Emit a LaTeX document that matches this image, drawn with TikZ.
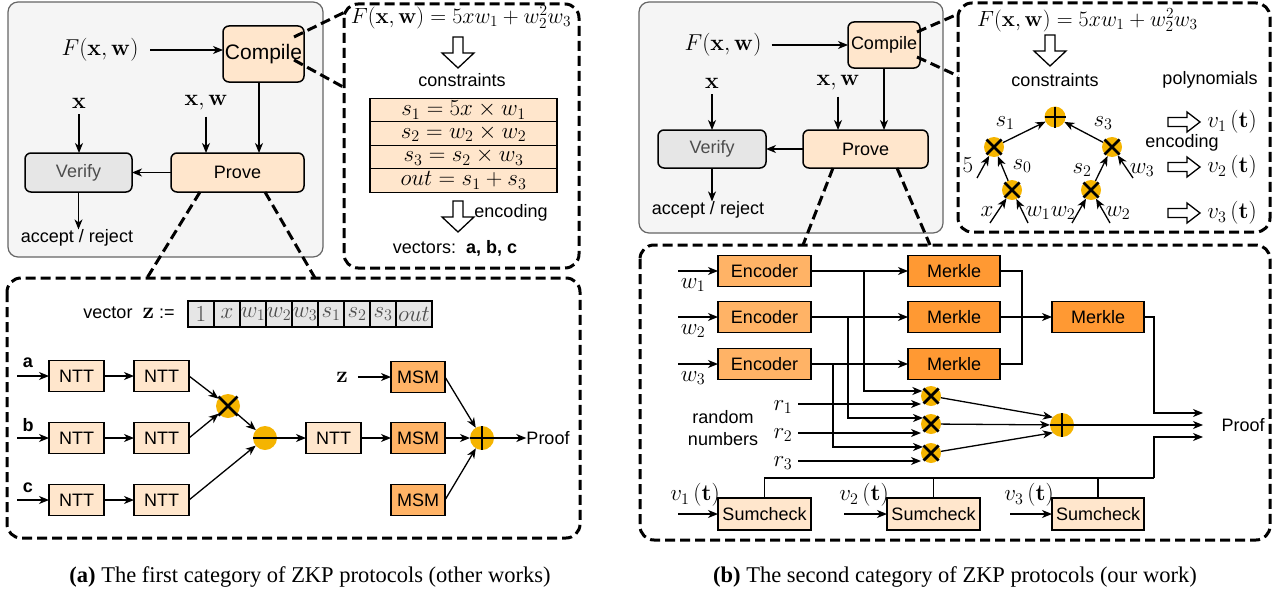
\RequirePackage{fix-cm}
\documentclass[tikz,border=0pt]{standalone}
\usepackage[no-math]{fontspec}
\setmainfont{Liberation Sans}
\newfontfamily\capfont{Liberation Serif}
\usetikzlibrary{arrows.meta,positioning}
\definecolor{peach}{HTML}{FFE6CC}
\definecolor{orangeA}{HTML}{FFB366}
\definecolor{orangeB}{HTML}{FF9933}
\definecolor{panelgray}{HTML}{F5F5F5}
\definecolor{panelrim}{HTML}{666666}
\definecolor{boxgray}{HTML}{E6E6E6}
\definecolor{vgray}{HTML}{4D4D4D}
\definecolor{opgold}{HTML}{F5B400}
% operator glyphs drawn on top of the round operator nodes
\newcommand\opmul[2]{\draw[line width=2.8pt] ([shift={(-#2,-#2)}]#1.center) -- ([shift={(#2,#2)}]#1.center) ([shift={(-#2,#2)}]#1.center) -- ([shift={(#2,-#2)}]#1.center);}
\newcommand\opadd[2]{\draw[line width=2.8pt] ([shift={(-#2,0)}]#1.center) -- ([shift={(#2,0)}]#1.center) ([shift={(0,-#2)}]#1.center) -- ([shift={(0,#2)}]#1.center);}
\newcommand\opsub[2]{\draw[line width=2.8pt] ([shift={(-#2,0)}]#1.center) -- ([shift={(#2,0)}]#1.center);}
\newcommand\mfs{\fontsize{23}{27}\selectfont}
\newcommand\ffs{\fontsize{22}{26}\selectfont}
\tikzset{
  hdown/.pic={\draw[line width=1.3pt, fill=white] (-5,0) -- (-5,16) -- (-16,16) -- (0,31) -- (16,16) -- (5,16) -- (5,0) -- cycle;},
  hright/.pic={\draw[line width=1.3pt, fill=white] (0,-4.5) -- (19,-4.5) -- (19,-10) -- (32,0) -- (19,10) -- (19,4.5) -- (0,4.5) -- cycle;}
}
\begin{document}
\begin{tikzpicture}[x=1pt,y=-1pt,
  every node/.style={font=\fontsize{18}{21}\selectfont, inner sep=0pt},
  mlab/.style={font=\mfs},
  arr/.style={line width=1.3pt, -{Stealth[length=10pt,width=8pt,inset=3pt]}},
  ln/.style={line width=1.3pt},
  sbox/.style={draw, line width=1.5pt, outer sep=0pt, minimum height=31pt},
  rsbox/.style={sbox, rounded corners=6pt},
  ntt/.style={sbox, fill=peach, minimum width=55pt},
  msm/.style={sbox, fill=orangeA, minimum width=54pt},
  cell/.style={draw, line width=1.3pt, fill=boxgray, text=vgray, outer sep=0pt, minimum width=26pt, minimum height=26pt, font=\mfs},
  crow/.style={draw, line width=1.3pt, fill=peach, outer sep=0pt, minimum width=187pt, minimum height=23.5pt, font=\mfs},
  dpanel/.style={line width=3pt, dash pattern=on 10pt off 5pt, rounded corners=14pt},
  dline/.style={line width=3pt, dash pattern=on 10pt off 5pt},
  opc/.style={circle, fill=opgold, minimum size=#1, outer sep=0pt}
]
\useasboundingbox (0,0) rectangle (1281,594);

% ================= (a) protocol overview =================
\draw[fill=panelgray, draw=panelrim, line width=1.2pt, rounded corners=10pt] (8,2) rectangle (323,257);
\node[rsbox, fill=peach, minimum width=81pt, minimum height=56pt, font=\fontsize{21}{24}\selectfont] (compA) at (263.5,54) {Compile};
\node[rsbox, fill=peach, minimum width=133pt, minimum height=39pt] (provA) at (237.5,172.5) {Prove};
\node[rsbox, fill=boxgray, text=vgray, minimum width=107pt, minimum height=39pt] (verA) at (78.5,172.5) {Verify};
\node[mlab] (FA) at (100,50) {$F(\mathbf{x},\mathbf{w})$};
\node[mlab] (xA) at (79,103) {$\mathbf{x}$};
\node[mlab] (xwA) at (206,103) {$\mathbf{x},\mathbf{w}$};
\node (accA) at (77,238) {accept / reject};
\coordinate (cAo) at (259,82);
\coordinate (fAo) at (150,50);
\draw[arr] (fAo) -- (fAo -| compA.west);
\draw[arr] (cAo) -- (cAo |- provA.north);
\draw[arr] ([shift={(0,6)}]xA.south) -- (xA.south |- verA.north);
\draw[arr] ([shift={(0,6)}]xwA.south) -- (xwA.south |- provA.north);
\draw[arr] (provA.west) -- (verA.east);
\draw[arr] (verA.south) -- (verA.south |- accA.north);

% ----- constraint panel -----
\draw[dpanel] (344,4) rectangle (579,268);
\coordinate (cpA1) at (345,12);
\coordinate (cpA2) at (345,88);
\draw[dline] ([shift={(-10,-17)}]compA.east) -- (cpA1);
\draw[dline] ([shift={(-10,6)}]compA.east) -- (cpA2);
\node[font=\ffs] (FeqA) at (461,17) {$F(\mathbf{x},\mathbf{w}) = 5xw_1 + w_2^2w_3$};
\pic at (458,37) {hdown};
\node (consA) at (462,80) {constraints};
\node[crow] (c1) at (463.5,110) {$s_1 = 5x \times w_1$};
\node[crow, below=0pt of c1] (c2) {$s_2 = w_2 \times w_2$};
\node[crow, below=0pt of c2] (c3) {$s_3 = s_2 \times w_3$};
\node[crow, below=0pt of c3] (c4) {$out = s_1 + s_3$};
\pic at (458,201) {hdown};
\node (encA) at (511,213) {encoding};
\node (vecA) at (455,248) {vectors:\ \ \textbf{a, b, c}};

% ----- prover pipeline -----
\draw[dpanel] (7,278) rectangle (580,538);
\coordinate (ppA1) at (147,278);
\coordinate (ppA2) at (315,278);
\draw[dline] ([shift={(-37.5,0)}]provA.south) -- (ppA1);
\draw[dline] ([shift={(27.5,0)}]provA.south) -- (ppA2);

\node (zlab) at (129,313) {vector\ \ {\mfs$\mathbf{z}$} :=};
\node[cell] (z1) at (201,314) {$1$};
\node[cell, right=0pt of z1] (z2) {$x$};
\node[cell, right=0pt of z2] (z3) {$w_1$};
\node[cell, right=0pt of z3] (z4) {$w_2$};
\node[cell, right=0pt of z4] (z5) {$w_3$};
\node[cell, right=0pt of z5] (z6) {$s_1$};
\node[cell, right=0pt of z6] (z7) {$s_2$};
\node[cell, right=0pt of z7] (z8) {$s_3$};
\node[cell, right=0pt of z8, minimum width=36pt] (z9) {$out$};

\node[ntt] (na1) at (76.5,376) {NTT};
\node[ntt] (na2) at (161.5,376) {NTT};
\node[ntt] (nb1) at (76.5,438) {NTT};
\node[ntt] (nb2) at (161.5,438) {NTT};
\node[ntt] (nc1) at (76.5,500) {NTT};
\node[ntt] (nc2) at (161.5,500) {NTT};
\coordinate (ia) at (17,376);
\coordinate (ib) at (17,438);
\coordinate (ic) at (17,500);
\node[font=\bfseries\fontsize{18}{21}\selectfont] (la) at (28,363) {a};
\node[font=\bfseries\fontsize{18}{21}\selectfont] (lb) at (28,425) {b};
\node[font=\bfseries\fontsize{18}{21}\selectfont] (lc) at (28,488) {c};
\draw[arr] (ia) -- (na1.west);
\draw[arr] (ib) -- (nb1.west);
\draw[arr] (ic) -- (nc1.west);
\draw[arr] (na1) -- (na2);
\draw[arr] (nb1) -- (nb2);
\draw[arr] (nc1) -- (nc2);

\node[opc=24pt] (mulA) at (228,406) {};
\node[opc=24pt] (subA) at (265,438) {};
\draw[arr] (na2.east) -- (mulA);
\draw[arr] (nb2.east) -- (mulA);
\draw[arr] (mulA) -- (subA);
\draw[arr] (nc2.east) -- (subA);
\opmul{mulA}{9.5}
\opsub{subA}{12}

\node[ntt] (nd) at (333.5,438) {NTT};
\node[msm] (msm1) at (418,377) {MSM};
\node[msm] (msm2) at (418,438) {MSM};
\node[msm] (msm3) at (418,500) {MSM};
\node[mlab] (zin) at (342,377) {$\mathbf{z}$};
\node[opc=24pt] (addA) at (482,438) {};
\node (proofA) at (548,438) {Proof};
\draw[arr] (subA) -- (nd);
\draw[arr] (nd) -- (msm2);
\draw[arr] ([shift={(10,0)}]zin.east) -- (msm1.west);
\draw[arr] (msm1.east) -- (addA);
\draw[arr] (msm2) -- (addA);
\draw[arr] (msm3.east) -- (addA);
\draw[arr] (addA) -- (proofA.west);
\opadd{addA}{12}

\node[font=\capfont\fontsize{22.5}{26}\selectfont] (capA) at (310,577) {\textbf{(a)} The first category of ZKP protocols (other works)};

% ================= (b) protocol overview =================
\draw[fill=panelgray, draw=panelrim, line width=1.2pt, rounded corners=10pt] (639,2) rectangle (943,233);
\node[rsbox, fill=peach, minimum width=72pt, minimum height=46pt] (compB) at (884,45) {Compile};
\node[rsbox, fill=peach, minimum width=125pt, minimum height=38pt] (provB) at (865.5,149) {Prove};
\node[rsbox, fill=boxgray, text=vgray, minimum width=108pt, minimum height=38pt] (verB) at (712,149) {Verify};
\node[mlab] (FB) at (723,45) {$F(\mathbf{x},\mathbf{w})$};
\node[mlab] (xB) at (712,83) {$\mathbf{x}$};
\node[mlab] (xwB) at (838,83) {$\mathbf{x},\mathbf{w}$};
\node (accB) at (708,210) {accept / reject};
\draw[arr] ([shift={(10,0)}]FB.east) -- (compB.west);
\draw[arr] (compB.south) -- (compB.south |- provB.north);
\draw[arr] ([shift={(0,6)}]xB.south) -- (xB.south |- verB.north);
\draw[arr] ([shift={(0,6)}]xwB.south) -- (xwB.south |- provB.north);
\draw[arr] (provB.west) -- (verB.east);
\draw[arr] (verB.south) -- (verB.south |- accB.north);

% ----- constraint tree panel -----
\draw[dpanel] (958,3) rectangle (1270,232);
\coordinate (cpB1) at (958,14);
\coordinate (cpB2) at (958,76);
\draw[dline] ([shift={(-3,-13)}]compB.east) -- (cpB1);
\draw[dline] ([shift={(-3,12)}]compB.east) -- (cpB2);
\node[font=\ffs, anchor=west] (FeqB) at (977,20) {$F(\mathbf{x},\mathbf{w}) = 5xw_1 + w_2^2w_3$};
\pic at (1050,35) {hdown};
\node (consB) at (1055,80) {constraints};
\node (polyB) at (1210,80) {polynomials};

\node[opc=21pt] (addT) at (1055,117) {};
\node[opc=20pt] (mulT1) at (994,147) {};
\node[opc=20pt] (mulT2) at (1112,147) {};
\node[opc=20pt] (mulT3) at (1012,190) {};
\node[opc=20pt] (mulT4) at (1091,190) {};
\coordinate (t5) at (977,178);
\coordinate (tw3) at (1133,178);
\coordinate (tx) at (990,223);
\coordinate (tw1) at (1028,223);
\coordinate (tw2a) at (1072,223);
\coordinate (tw2b) at (1110,223);
\draw[arr] (mulT1) -- (addT);
\draw[arr] (mulT2) -- (addT);
\draw[arr] (mulT3) -- (mulT1);
\draw[arr] (mulT4) -- (mulT2);
\draw[arr] (t5) -- (mulT1);
\draw[arr] (tw3) -- (mulT2);
\draw[arr] (tx) -- (mulT3);
\draw[arr] (tw1) -- (mulT3);
\draw[arr] (tw2a) -- (mulT4);
\draw[arr] (tw2b) -- (mulT4);
\opadd{addT}{10.5}
\opmul{mulT1}{7.5}
\opmul{mulT2}{7.5}
\opmul{mulT3}{7.5}
\opmul{mulT4}{7.5}
\node[mlab] (ls1) at (1005,123) {$s_1$};
\node[mlab] (ls3) at (1103,123) {$s_3$};
\node[mlab] (l5) at (968,165) {$5$};
\node[mlab] (ls0) at (1022,166) {$s_0$};
\node[mlab] (ls2) at (1082,170) {$s_2$};
\node[mlab] (lw3) at (1142,170) {$w_3$};
\node[mlab] (lx) at (987,212) {$x$};
\node[mlab] (lw1) at (1038,213) {$w_1$};
\node[mlab] (lw2a) at (1063,213) {$w_2$};
\node[mlab] (lw2b) at (1118,213) {$w_2$};

\pic at (1168,122) {hright};
\pic at (1168,167) {hright};
\pic at (1168,213) {hright};
\node (encB) at (1182,143) {encoding};
\node[mlab] (v1) at (1232,122) {$v_1\,(\mathbf{t})$};
\node[mlab] (v2) at (1232,167) {$v_2\,(\mathbf{t})$};
\node[mlab] (v3) at (1232,213) {$v_3\,(\mathbf{t})$};

% ----- prover pipeline -----
\draw[dpanel] (640,245) rectangle (1270,540);
\coordinate (ppB1) at (803,245);
\coordinate (ppB2) at (930,245);
\draw[dline] ([shift={(-32.5,0)}]provB.south) -- (ppB1);
\draw[dline] ([shift={(31.5,0)}]provB.south) -- (ppB2);

\node[sbox, fill=orangeA, minimum width=93pt] (enc1) at (764.5,271) {Encoder};
\node[sbox, fill=orangeA, minimum width=93pt] (enc2) at (764.5,317) {Encoder};
\node[sbox, fill=orangeA, minimum width=93pt] (enc3) at (764.5,364) {Encoder};
\node[sbox, fill=orangeB, minimum width=92pt] (mk1) at (954,271) {Merkle};
\node[sbox, fill=orangeB, minimum width=92pt] (mk2) at (954,317) {Merkle};
\node[sbox, fill=orangeB, minimum width=92pt] (mk3) at (954,364) {Merkle};
\node[sbox, fill=orangeB, minimum width=92pt] (mk4) at (1098,317) {Merkle};
\coordinate (iw1) at (678,271);
\coordinate (iw2) at (678,317);
\coordinate (iw3) at (678,364);
\node[mlab] (lbw1) at (693,285) {$w_1$};
\node[mlab] (lbw2) at (693,331) {$w_2$};
\node[mlab] (lbw3) at (693,378) {$w_3$};
\draw[arr] (iw1) -- (enc1.west);
\draw[arr] (iw2) -- (enc2.west);
\draw[arr] (iw3) -- (enc3.west);
\draw[arr] (enc1) -- (mk1);
\draw[arr] (enc2) -- (mk2);
\draw[arr] (enc3) -- (mk3);
\coordinate (jm) at (1022,317);
\draw[ln] (mk1.east) -| (jm) |- (mk3.east);
\draw[arr] (mk2) -- (mk4);

\node[opc=20pt] (mulB1) at (931,396) {};
\node[opc=20pt] (mulB2) at (931,424) {};
\node[opc=20pt] (mulB3) at (931,453) {};
\node[opc=24pt] (addB) at (1062,425) {};
\coordinate (j1) at (864,271);
\coordinate (j2) at (848,317);
\coordinate (j3) at (833,364);
\draw[arr] (j1) |- (mulB1.150);
\draw[arr] (j2) |- (mulB2.143);
\draw[arr] (j3) |- (mulB3.143);
\coordinate (ir1) at (798,404);
\coordinate (ir2) at (798,433);
\coordinate (ir3) at (798,461);
\draw[arr] (ir1) -- (ir1 -| mulB1.west);
\draw[arr] (ir2) -- (ir2 -| mulB2.west);
\draw[arr] (ir3) -- (ir3 -| mulB3.west);
\node[mlab] (lr1) at (783,407) {$r_1$};
\node[mlab] (lr2) at (783,435) {$r_2$};
\node[mlab] (lr3) at (783,463) {$r_3$};
\node (rnd1) at (723,417) {random};
\node (rnd2) at (723,439) {numbers};
\draw[arr] (mulB1) -- (addB.140);
\draw[arr] (mulB2) -- (addB);
\draw[arr] (mulB3) -- (addB.220);
\opmul{mulB1}{7.5}
\opmul{mulB2}{7.5}
\opmul{mulB3}{7.5}
\opadd{addB}{12}

\node (proofB) at (1243,425) {Proof};
\coordinate (pk1) at (1154,413);
\coordinate (pe1) at (1203,413);
\coordinate (pe2) at (1203,425);
\coordinate (bus) at (1154,478);
\coordinate (pk3) at (1154,437);
\coordinate (pe3) at (1203,437);
\draw[arr] (mk4.east) -| (pk1) -- (pe1);
\draw[arr] (addB) -- (pe2);

\node[sbox, fill=peach, minimum width=93pt, minimum height=32pt] (sc1) at (764.5,514) {Sumcheck};
\node[sbox, fill=peach, minimum width=93pt, minimum height=32pt] (sc2) at (933.5,514) {Sumcheck};
\node[sbox, fill=peach, minimum width=92pt, minimum height=32pt] (sc3) at (1098,514) {Sumcheck};
\draw[ln] (sc1.north) |- (bus);
\draw[ln] (sc2.north) -- (sc2.north |- bus);
\draw[ln] (sc3.north) -- (sc3.north |- bus);
\draw[arr] (bus) -- (pk3) -- (pe3);
\coordinate (iv1) at (678,514);
\coordinate (iv2) at (844,514);
\coordinate (iv3) at (1010,514);
\draw[arr] (iv1) -- (sc1.west);
\draw[arr] (iv2) -- (sc2.west);
\draw[arr] (iv3) -- (sc3.west);
\node[mlab] (lv1) at (695,495) {$v_1\,(\mathbf{t})$};
\node[mlab] (lv2) at (864,495) {$v_2\,(\mathbf{t})$};
\node[mlab] (lv3) at (1029,495) {$v_3\,(\mathbf{t})$};

\node[font=\capfont\fontsize{22.5}{26}\selectfont] (capB) at (955,577) {\textbf{(b)} The second category of ZKP protocols (our work)};
\end{tikzpicture}
\end{document}
